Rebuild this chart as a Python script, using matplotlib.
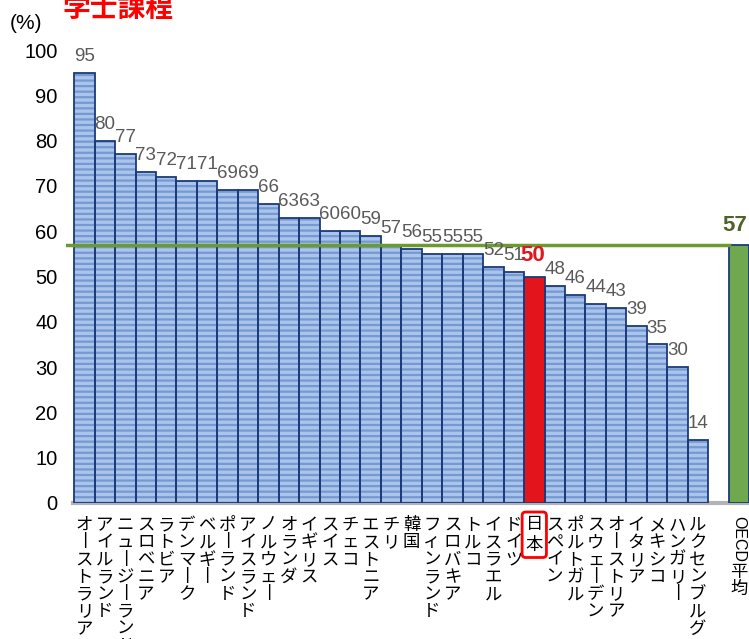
import matplotlib
matplotlib.use("Agg")
import matplotlib.pyplot as plt

plt.rcParams['font.family'] = ['Liberation Sans', 'Noto Sans CJK JP', 'DejaVu Sans']
plt.rcParams['hatch.linewidth'] = 1.6

countries = ["オーストラリア", "アイルランド", "ニュージーランド", "スロベニア", "ラトビア",
             "デンマーク", "ベルギー", "ポーランド", "アイスランド", "ノルウェー",
             "オランダ", "イギリス", "スイス", "チェコ", "エストニア", "チリ", "韓国",
             "フィンランド", "スロバキア", "トルコ", "イスラエル", "ドイツ", "日本",
             "スペイン", "ポルトガル", "スウェーデン", "オーストリア", "イタリア",
             "メキシコ", "ハンガリー", "ルクセンブルグ"]
values = [95, 80, 77, 73, 72, 71, 71, 69, 69, 66, 63, 63, 60, 60, 59, 57, 56,
          55, 55, 55, 52, 51, 50, 48, 46, 44, 43, 39, 35, 30, 14]
oecd_value = 57
japan = "日本"

BLUE = '#abc4eb'
STRIPE = '#7599d0'
NAVY = '#1b3a7a'
RED = '#e3141c'
GREEN = '#6fa84e'
LINE_GREEN = '#6b9a2f'
CJK = ['Noto Sans CJK JP', 'DejaVu Sans']
FS = 12.5
STEP = 17.3 * 72 / 100  # points per stacked character

fig = plt.figure(figsize=(7.49, 6.39), dpi=100)
ax = fig.add_axes([66 / 749, 1 - 503 / 639, 683 / 749, 105 * 4.53 / 639])

xs = list(range(len(countries)))
oecd_x = len(countries) + 1

# striped fill, then outline
for x, v, c in zip(xs, values, countries):
    if c == japan:
        ax.bar(x, v, width=1.0, color=RED, linewidth=0, zorder=2)
    else:
        ax.bar(x, v, width=1.0, color=BLUE, edgecolor=STRIPE, linewidth=0, hatch='---', zorder=2)
ax.bar(xs, values, width=1.0, fill=False, edgecolor=NAVY, linewidth=1.3, zorder=3)
ax.bar(oecd_x, oecd_value, width=1.0, color=GREEN, edgecolor=NAVY, linewidth=1.3, zorder=3)

# baseline and OECD average line
ax.plot([-0.55, oecd_x + 0.6], [0, 0], color='#b3b3b3', linewidth=3, zorder=1, clip_on=False)
ax.plot([-0.85, oecd_x - 0.5], [oecd_value, oecd_value], color=LINE_GREEN, linewidth=2.5, zorder=4)

# value labels
for x, v, c in zip(xs, values, countries):
    if c == japan:
        ax.annotate(str(v), (x, v), xytext=(-1, 11), textcoords='offset points',
                    ha='center', va='baseline', color=RED, fontsize=16, fontweight='bold',
                    zorder=5)
    else:
        ax.annotate(str(v), (x, v), xytext=(0, 8.6), textcoords='offset points',
                    ha='center', va='baseline', color='#595959', fontsize=13.5, zorder=5)
ax.annotate(str(oecd_value), (oecd_x + 0.5, oecd_value), xytext=(-1, 10), textcoords='offset points',
            ha='right', va='baseline', color='#4f6228', fontsize=16, fontweight='bold',
            zorder=5)


# vertical category labels, one character per line (long vowel mark upright)
def vertical_label(x, text, start=9.0):
    for k, ch in enumerate(text):
        if ch == 'ー':
            ch = '丨'
        ax.annotate(ch, (x, 0), xytext=(0, -(start + STEP * (k + 1) - 2.0)),
                    textcoords='offset points', ha='center', va='baseline',
                    fontsize=FS, family=CJK, annotation_clip=False)


for x, c in zip(xs, countries):
    if c == japan:
        # boxed label
        ax.annotate("\n".join(c), (x, 0), xytext=(0, -9), textcoords='offset points',
                    ha='center', va='top', fontsize=FS, family=CJK, linespacing=1.18,
                    annotation_clip=False,
                    bbox=dict(boxstyle='round,pad=0.2', fc='none', ec='red', lw=2))
    else:
        vertical_label(x, c)

# OECD average label: rotated latin + upright kanji
ax.annotate("OECD", (oecd_x, 0), xytext=(0, -9.5), textcoords='offset points',
            ha='center', va='top', rotation=-90, fontsize=11.5, annotation_clip=False)
for k, ch in enumerate("平均"):
    ax.annotate(ch, (oecd_x, 0), xytext=(0, -(9.5 + 33 + STEP * (k + 1) - 2.0)),
                textcoords='offset points', ha='center', va='baseline',
                fontsize=FS, family=CJK, annotation_clip=False)

ax.set_xlim(-0.9, oecd_x + 0.5)
ax.set_ylim(0, 105)
ax.set_yticks(range(0, 101, 10))
ax.tick_params(axis='y', length=0, labelsize=14.5, pad=6)
ax.set_xticks([])
for s in ax.spines.values():
    s.set_visible(False)

fig.text(10 / 749, 1 - 29 / 639, "(%)", fontsize=15, va='baseline')
fig.text(63 / 749, 1 - 17 / 639, "学士課程", fontsize=20, fontweight='bold',
         color='#ff0000', family=CJK, va='baseline')

fig.savefig('out.png', dpi=100)
